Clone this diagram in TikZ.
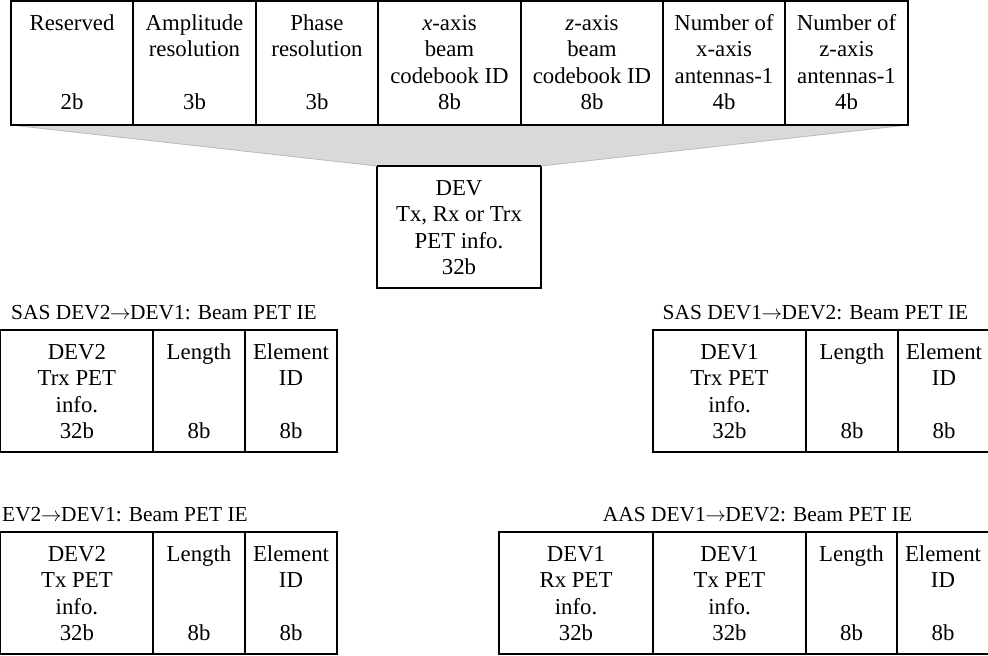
\documentclass[tikz,border=0pt]{standalone}
\usepackage{fontspec}
\setmainfont{Liberation Serif}
\begin{document}
\definecolor{funnelfill}{RGB}{217,217,217}
\definecolor{funneledge}{RGB}{185,185,185}
\tikzset{
  cellbox/.style={draw=black, line width=1.1bp, inner sep=0pt, outer sep=0pt},
  celltext/.style={font=\fontsize{22.8bp}{26.5bp}\selectfont, align=center, inner sep=0pt},
  ietitle/.style={font=\fontsize{21.4bp}{26bp}\selectfont, inner sep=0pt},
  funnel/.style={fill=funnelfill, draw=funneledge, line width=0.8bp},
}
% arrow between device names in the IE titles
\newcommand\devto{\kern-0.5bp\(\rightarrow\)\kern-0.5bp}
% one field of a frame: name, left, right, top, bottom, text (lines split by \\)
\newcommand\fieldcell[6]{%
  \pgfmathsetmacro\fcw{#3-#2}%
  \pgfmathsetmacro\fch{#5-#4}%
  \node[cellbox, minimum width=\fcw bp, minimum height=\fch bp] (#1) at ({(#2+#3)/2},{(#4+#5)/2}) {};
  \node[celltext, anchor=north] (#1-t) at ([yshift=-10.45bp]#1.north) {\strut #6};
}
\begin{tikzpicture}[x=1bp, y=-1bp]
\useasboundingbox (0,0) rectangle (988,656);

% PET info field layout (top row)
\fieldcell{res}{11}{133}{1}{125}{Reserved\\\mbox{}\\\mbox{}\\2b}
\fieldcell{amp}{133}{256}{1}{125}{Amplitude\\resolution\\\mbox{}\\3b}
\fieldcell{pha}{256}{378}{1}{125}{Phase\\resolution\\\mbox{}\\3b}
\fieldcell{xcb}{378}{521}{1}{125}{\textit{x}-axis\\beam\\codebook ID\\8b}
\fieldcell{zcb}{521}{663}{1}{125}{\textit{z}-axis\\beam\\codebook ID\\8b}
\fieldcell{xant}{663}{785}{1}{125}{Number of\\x-axis\\antennas-1\\4b}
\fieldcell{zant}{785}{908}{1}{125}{Number of\\z-axis\\antennas-1\\4b}

% PET info field
\fieldcell{dev}{377}{541}{166}{288}{DEV\\Tx, Rx or Trx\\PET info.\\32b}

% expansion wedge between the field and its layout
\fill[funnel] (res.south west) -- (zant.south east) -- (dev.north east) -- (dev.north west) -- cycle;
\draw[line width=1.1bp] (res.south west) -- (zant.south east);
\draw[line width=1.1bp] (dev.north west) -- (dev.north east);

% SAS DEV2 -> DEV1
\node[ietitle, anchor=base] (t1) at (164,319) {SAS DEV2\devto DEV1: Beam PET IE};
\fieldcell{a1}{0.8}{153}{330}{452}{DEV2\\Trx PET\\info.\\32b}
\fieldcell{a2}{153}{245}{330}{452}{Length\\\mbox{}\\\mbox{}\\8b}
\fieldcell{a3}{245}{337}{330}{452}{Element\\ID\\\mbox{}\\8b}

% SAS DEV1 -> DEV2
\node[ietitle, anchor=base] (t2) at (815.5,319) {SAS DEV1\devto DEV2: Beam PET IE};
\fieldcell{b1}{653}{806}{330}{452}{DEV1\\Trx PET\\info.\\32b}
\fieldcell{b2}{806}{898}{330}{452}{Length\\\mbox{}\\\mbox{}\\8b}
\fieldcell{b3}{898}{990}{330}{452}{Element\\ID\\\mbox{}\\8b}

% DEV2 -> DEV1
\node[ietitle, anchor=base west] (t3) at (2,521) {EV2\devto DEV1: Beam PET IE};
\fieldcell{c1}{0.8}{153}{532}{654}{DEV2\\Tx PET\\info.\\32b}
\fieldcell{c2}{153}{245}{532}{654}{Length\\\mbox{}\\\mbox{}\\8b}
\fieldcell{c3}{245}{337}{532}{654}{Element\\ID\\\mbox{}\\8b}

% AAS DEV1 -> DEV2
\node[ietitle, anchor=base] (t4) at (757.5,521) {AAS DEV1\devto DEV2: Beam PET IE};
\fieldcell{d1}{499}{653}{532}{654}{DEV1\\Rx PET\\info.\\32b}
\fieldcell{d2}{653}{806}{532}{654}{DEV1\\Tx PET\\info.\\32b}
\fieldcell{d3}{806}{897}{532}{654}{Length\\\mbox{}\\\mbox{}\\8b}
\fieldcell{d4}{897}{989}{532}{654}{Element\\ID\\\mbox{}\\8b}
\end{tikzpicture}
\end{document}
